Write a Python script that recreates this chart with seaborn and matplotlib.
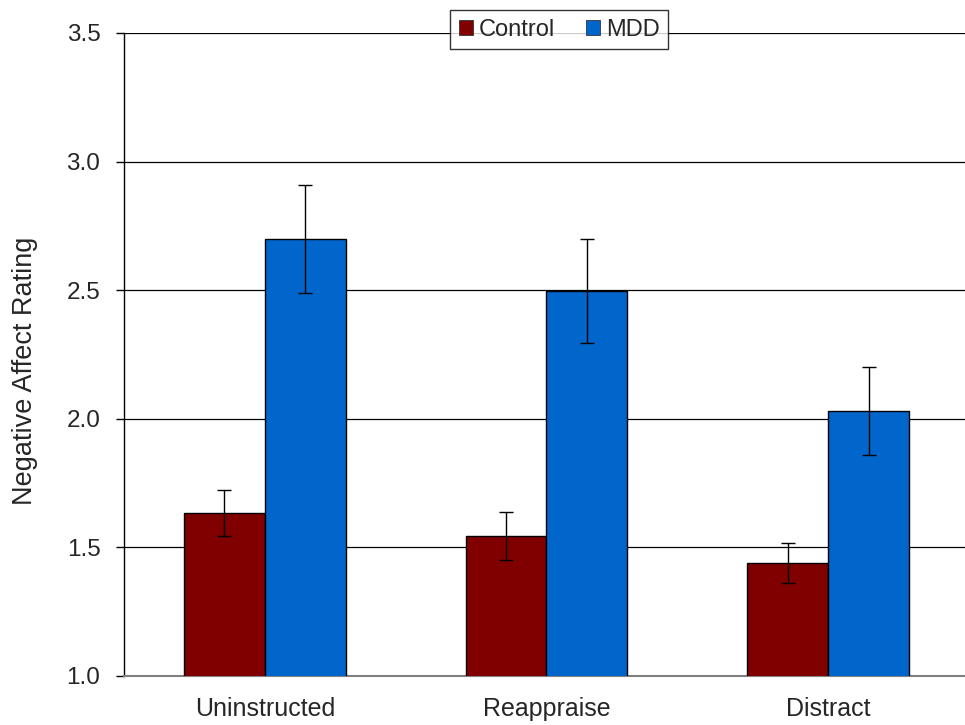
import matplotlib
matplotlib.use("Agg")
import matplotlib.pyplot as plt
import seaborn as sns
import pandas as pd
import numpy as np
from matplotlib.patches import Patch

conditions = ["Uninstructed", "Reappraise", "Distract"]
groups = ["Control", "MDD"]
control_means = [1.634, 1.544, 1.439]
mdd_means = [2.70, 2.497, 2.03]
control_err = [0.09, 0.093, 0.078]
mdd_err = [0.21, 0.203, 0.17]
colors = ["#800000", "#0066CC"]
yticks = [1.0, 1.5, 2.0, 2.5, 3.0, 3.5]

sns.set_style("white")
plt.rcParams['font.family'] = ['Liberation Sans', 'DejaVu Sans']

df = pd.DataFrame({
    "condition": conditions * 2,
    "group": ["Control"] * 3 + ["MDD"] * 3,
    "value": control_means + mdd_means,
})
errs = {"Control": control_err, "MDD": mdd_err}

fig = plt.figure(figsize=(9.65, 7.25), dpi=100)
ax = fig.add_axes([0.1285, 0.0676, 0.8756, 0.887])

sns.barplot(data=df, x="condition", y="value", hue="group", order=conditions,
            hue_order=groups, palette=colors, width=0.575, errorbar=None,
            edgecolor="black", linewidth=1.0, saturation=1, ax=ax, zorder=3,
            legend=False)

for cont, g in zip(ax.containers, groups):
    xs = [p.get_x() + p.get_width() / 2 for p in cont.patches]
    ys = [p.get_height() for p in cont.patches]
    ax.errorbar(xs, ys, yerr=errs[g], fmt="none", ecolor="black",
                elinewidth=1.0, capsize=5, capthick=1.0, zorder=4)

ax.set_ylim(1.0, 3.5)
ax.set_xlim(-0.5, 2.5)
ax.set_yticks(yticks)
ax.set_yticklabels([f"{t:.1f}" for t in yticks], fontsize=17.5)
ax.yaxis.grid(True, color="black", linewidth=0.9, zorder=0)
ax.set_axisbelow(True)

ax.set_xticks(range(len(conditions)))
ax.set_xticklabels(conditions, fontsize=18)
ax.tick_params(axis="x", which="major", length=0, pad=15)
ax.set_xticks([-0.5, 0.5, 1.5, 2.5], minor=True)
ax.tick_params(axis="x", which="minor", length=6, color="#808080", width=1, direction="out")
ax.tick_params(axis="y", which="major", length=6, color="black", width=1, direction="out", pad=11, left=True)

ax.set_xlabel("")
ax.set_ylabel("Negative Affect Rating", fontsize=19.5)
ax.yaxis.set_label_coords(-0.1023, 0.474)

for s in ["top", "right"]:
    ax.spines[s].set_visible(False)
ax.spines["left"].set_color("black")
ax.spines["left"].set_linewidth(1)
ax.spines["bottom"].set_color("#808080")
ax.spines["bottom"].set_linewidth(1.5)

handles = [Patch(facecolor=c, edgecolor="#333333", linewidth=0.6) for c in colors]
leg = ax.legend(handles, groups, loc="center", bbox_to_anchor=(0.515, 1.005),
                ncol=2, frameon=True, fancybox=False, fontsize=17,
                handlelength=0.6, handleheight=0.6, handletextpad=0.25,
                columnspacing=1.3, borderpad=0.35)
leg.get_frame().set_edgecolor("black")
leg.get_frame().set_linewidth(1.0)
leg.set_zorder(10)

fig.savefig("out.png", dpi=100)
